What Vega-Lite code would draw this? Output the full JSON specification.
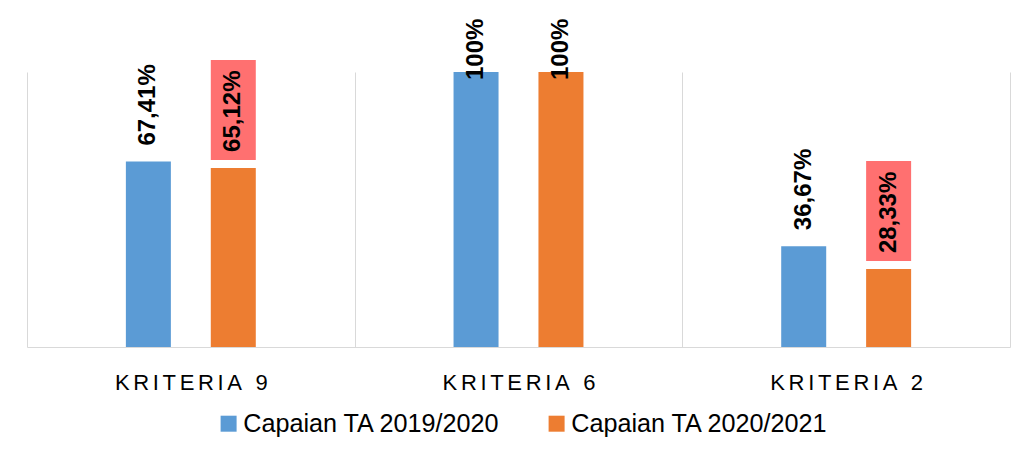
{
  "$schema": "https://vega.github.io/schema/vega-lite/v6.json",
  "width": 983,
  "height": 275,
  "autosize": "none",
  "padding": {"left": 27, "top": 72, "right": 5, "bottom": 109},
  "background": "white",
  "config": {"view": {"stroke": null}},
  "data": {
    "values": [
      {"kriteria": "KRITERIA 9", "series": "Capaian TA 2019/2020", "value": 67.41, "label": "67,41%"},
      {"kriteria": "KRITERIA 9", "series": "Capaian TA 2020/2021", "value": 65.12, "label": "65,12%"},
      {"kriteria": "KRITERIA 6", "series": "Capaian TA 2019/2020", "value": 100, "label": "100%"},
      {"kriteria": "KRITERIA 6", "series": "Capaian TA 2020/2021", "value": 100, "label": "100%"},
      {"kriteria": "KRITERIA 2", "series": "Capaian TA 2019/2020", "value": 36.67, "label": "36,67%"},
      {"kriteria": "KRITERIA 2", "series": "Capaian TA 2020/2021", "value": 28.33, "label": "28,33%"}
    ]
  },
  "encoding": {
    "x": {
      "field": "kriteria",
      "type": "nominal",
      "sort": ["KRITERIA 9", "KRITERIA 6", "KRITERIA 2"],
      "scale": {"paddingInner": 0, "paddingOuter": 0},
      "axis": {
        "title": null,
        "labelAngle": 0,
        "labelFont": "Liberation Sans",
        "labelFontSize": 22,
        "labelColor": "#000000",
        "labelPadding": 25,
        "labelExpr": "join(split(datum.label, ''), '\u2006')",
        "ticks": false,
        "grid": true,
        "tickBand": "extent",
        "gridColor": "#D9D9D9",
        "gridWidth": 1,
        "domainColor": "#D9D9D9",
        "domainWidth": 1
      }
    },
    "xOffset": {
      "field": "series",
      "type": "nominal",
      "scale": {"domain": ["Capaian TA 2019/2020", "Capaian TA 2020/2021"], "paddingInner": 0.1412, "paddingOuter": 1}
    },
    "y": {
      "field": "value",
      "type": "quantitative",
      "scale": {"domain": [0, 100], "nice": false},
      "axis": null
    }
  },
  "layer": [
    {
      "mark": {"type": "bar", "width": 45},
      "encoding": {
        "color": {
          "field": "series",
          "type": "nominal",
          "scale": {"domain": ["Capaian TA 2019/2020", "Capaian TA 2020/2021"], "range": ["#5B9BD5", "#ED7D31"]},
          "legend": {
            "title": null,
            "orient": "none",
            "direction": "horizontal",
            "legendX": 189,
            "legendY": 339,
            "symbolType": "square",
            "symbolSize": 256,
            "symbolStrokeWidth": 0,
            "symbolOpacity": 1,
            "labelFont": "Liberation Sans",
            "labelFontSize": 25.2,
            "labelColor": "#000000",
            "labelOffset": 2,
            "columnPadding": 43,
            "labelLimit": 400
          }
        }
      }
    },
    {
      "transform": [{"filter": "datum.series == 'Capaian TA 2020/2021' && datum.value < 100"}],
      "mark": {"type": "bar", "width": 45, "color": "#FF7070", "yOffset": -8, "y2Offset": -108},
      "encoding": {
        "y2": {"field": "value"}
      }
    },
    {
      "transform": [{"filter": "datum.value < 100"}],
      "mark": {"type": "text", "angle": 270, "align": "left", "baseline": "middle", "font": "Liberation Sans", "fontWeight": "bold", "fontSize": 24, "color": "#000000", "yOffset": -16},
      "encoding": {"text": {"field": "label"}}
    },
    {
      "transform": [{"filter": "datum.value >= 100"}],
      "mark": {"type": "text", "angle": 270, "align": "left", "baseline": "middle", "font": "Liberation Sans", "fontWeight": "bold", "fontSize": 24, "color": "#000000", "yOffset": 8},
      "encoding": {"text": {"field": "label"}}
    }
  ]
}
